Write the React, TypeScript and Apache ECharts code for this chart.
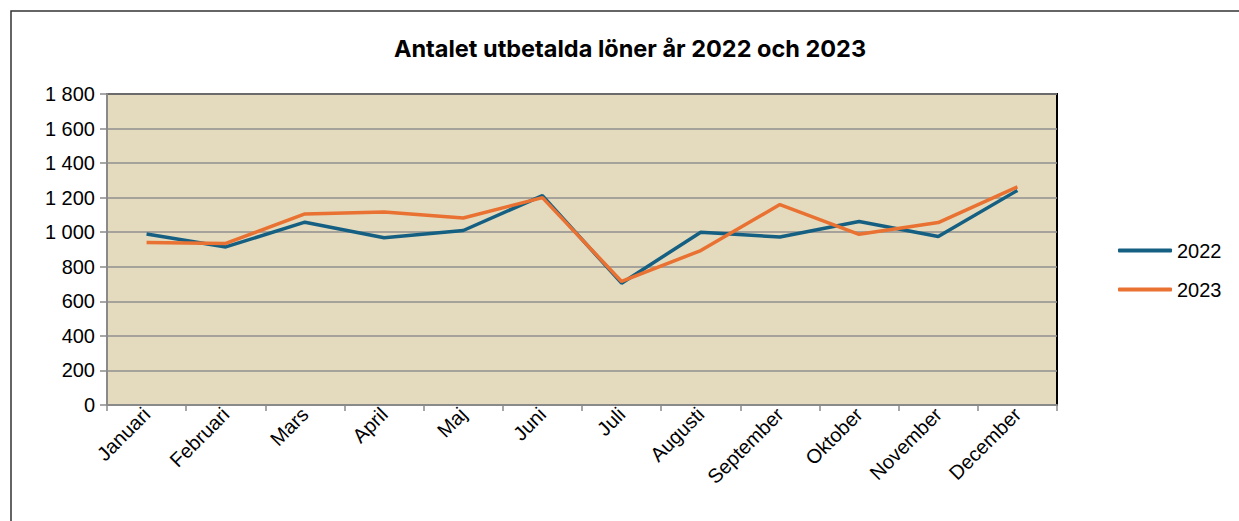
import React, { useEffect, useRef } from "react";
import * as echarts from "echarts";

const months = ["Januari", "Februari", "Mars", "April", "Maj", "Juni", "Juli", "Augusti", "September", "Oktober", "November", "December"];
const values2022 = [990, 915, 1058, 968, 1010, 1212, 705, 1000, 972, 1062, 975, 1242];
const values2023 = [940, 935, 1106, 1117, 1082, 1200, 715, 894, 1160, 988, 1056, 1263];
const seriesNames = ["2022", "2023"];
const titleText = "Antalet utbetalda löner år 2022 och 2023";

export default function App() {
  const ref = useRef<HTMLDivElement>(null);
  useEffect(() => {
    document.body.style.margin = "0";
    const chart = echarts.init(ref.current!, null, { renderer: "svg" });
    const axisFont = { fontFamily: "Liberation Sans, Arial, sans-serif", fontSize: 20, color: "#000" };
    chart.setOption({
      animation: false,
      backgroundColor: "#fff",
      graphic: [
        {
          type: "rect",
          shape: { x: 11, y: 11, width: 1260, height: 540 },
          style: { fill: "none", stroke: "#333", lineWidth: 1.5 },
          silent: true,
          z: -1,
        },
        {
          type: "text",
          x: 630,
          y: 48.5,
          style: {
            text: titleText,
            fontFamily: "Inter, 'Noto Sans', sans-serif",
            fontWeight: "bold",
            fontSize: 23.5,
            fill: "#000",
            textAlign: "center",
            textVerticalAlign: "middle",
          },
        },
      ],
      legend: {
        orient: "vertical",
        left: 1118,
        top: 239,
        padding: 0,
        icon: "roundRect",
        itemWidth: 54,
        itemHeight: 4,
        itemGap: 16,
        textStyle: { ...axisFont, padding: [0, 0, 0, 0], lineHeight: 23 },
        data: seriesNames,
      },
      grid: {
        left: 107,
        top: 94,
        width: 950,
        height: 311,
        show: true,
        backgroundColor: "#E4DABD",
        borderColor: "#000",
        borderWidth: 2,
      },
      xAxis: {
        type: "category",
        data: months,
        boundaryGap: true,
        axisLine: { lineStyle: { color: "#8a8a8a", width: 2 } },
        axisTick: { show: true, length: 6, lineStyle: { color: "#8a8a8a", width: 1.5 } },
        axisLabel: { ...axisFont, rotate: 45, margin: 6, interval: 0 },
      },
      yAxis: {
        type: "value",
        min: 0,
        max: 1800,
        interval: 200,
        axisLine: { show: true, lineStyle: { color: "#8a8a8a", width: 2 } },
        axisTick: { show: true, length: 7, lineStyle: { color: "#8a8a8a", width: 1.5 } },
        splitLine: { lineStyle: { color: "#8f8f8f", width: 1.5 } },
        axisLabel: {
          ...axisFont,
          margin: 12,
          formatter: (v: number) => String(v).replace(/\B(?=(\d{3})+(?!\d))/g, " "),
        },
      },
      series: [
        {
          name: seriesNames[0],
          type: "line",
          data: values2022,
          symbol: "none",
          lineStyle: { color: "#156082", width: 3.5 },
          itemStyle: { color: "#156082" },
        },
        {
          name: seriesNames[1],
          type: "line",
          data: values2023,
          symbol: "none",
          lineStyle: { color: "#E97132", width: 3.5 },
          itemStyle: { color: "#E97132" },
        },
      ],
    });
    return () => chart.dispose();
  }, []);
  return <div ref={ref} style={{ width: 1239, height: 521 }} />;
}
